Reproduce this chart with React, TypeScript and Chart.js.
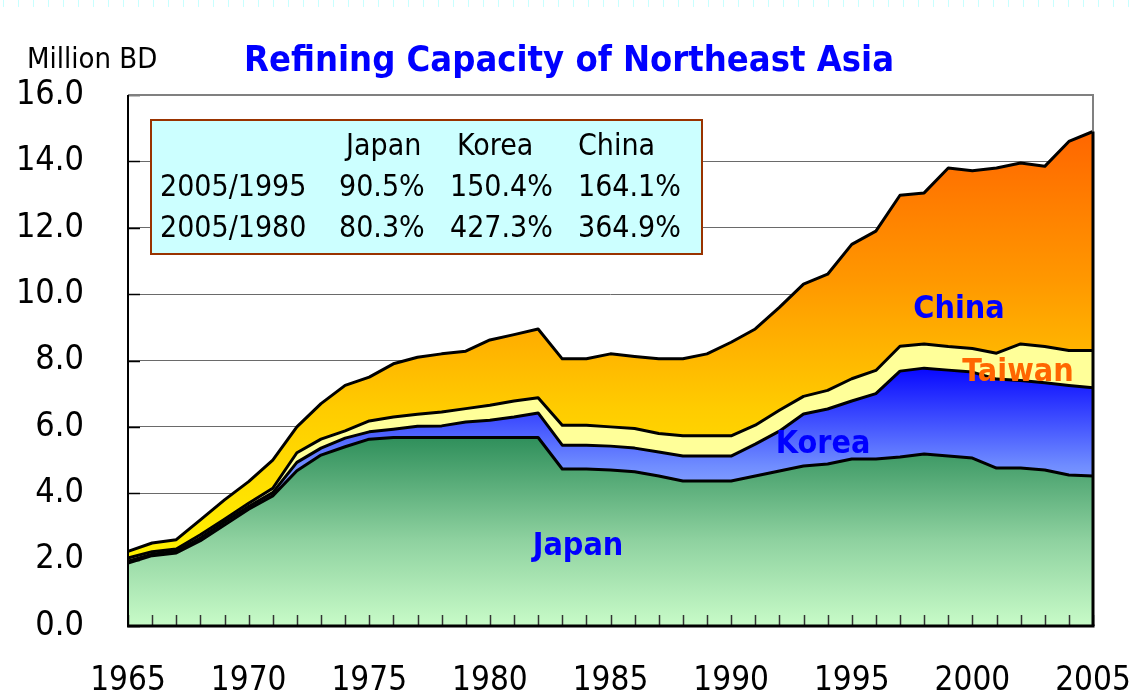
import { useEffect, useRef } from 'react';
import { Chart, registerables } from 'chart.js';

Chart.register(...registerables);

// ---- Data (million barrels/day) ----
const years = [
  1965, 1966, 1967, 1968, 1969, 1970, 1971, 1972, 1973, 1974,
  1975, 1976, 1977, 1978, 1979, 1980, 1981, 1982, 1983, 1984,
  1985, 1986, 1987, 1988, 1989, 1990, 1991, 1992, 1993, 1994,
  1995, 1996, 1997, 1998, 1999, 2000, 2001, 2002, 2003, 2004, 2005,
];
const japan = [
  1.90, 2.12, 2.20, 2.57, 3.04, 3.52, 3.92, 4.68, 5.15, 5.40,
  5.63, 5.68, 5.68, 5.68, 5.68, 5.68, 5.68, 5.68, 4.73, 4.73,
  4.70, 4.65, 4.52, 4.37, 4.37, 4.37, 4.52, 4.67, 4.82, 4.88,
  5.03, 5.03, 5.09, 5.18, 5.12, 5.06, 4.76, 4.76, 4.70, 4.55, 4.52,
];
const korea = [
  0.05, 0.04, 0.05, 0.08, 0.09, 0.08, 0.10, 0.25, 0.21, 0.26,
  0.22, 0.25, 0.34, 0.35, 0.47, 0.52, 0.62, 0.74, 0.72, 0.72,
  0.72, 0.71, 0.72, 0.75, 0.75, 0.75, 0.96, 1.20, 1.57, 1.66,
  1.75, 1.97, 2.59, 2.59, 2.59, 2.59, 2.68, 2.64, 2.63, 2.70, 2.66,
];
const taiwan = [
  0.10, 0.08, 0.07, 0.10, 0.09, 0.10, 0.13, 0.29, 0.27, 0.22,
  0.33, 0.37, 0.36, 0.42, 0.40, 0.45, 0.48, 0.46, 0.60, 0.60,
  0.58, 0.59, 0.56, 0.61, 0.61, 0.61, 0.57, 0.63, 0.53, 0.56,
  0.67, 0.70, 0.75, 0.73, 0.71, 0.71, 0.78, 1.10, 1.09, 1.05, 1.12,
];
const china = [
  0.20, 0.26, 0.28, 0.45, 0.58, 0.65, 0.85, 0.78, 1.07, 1.37,
  1.32, 1.60, 1.72, 1.75, 1.73, 1.97, 2.00, 2.07, 2.00, 2.00,
  2.20, 2.17, 2.25, 2.32, 2.47, 2.82, 2.90, 3.10, 3.38, 3.50,
  4.05, 4.20, 4.55, 4.55, 5.38, 5.36, 5.58, 5.45, 5.43, 6.30, 6.60,
];
const seriesNames = ['Japan', 'Korea', 'Taiwan', 'China'];
const yTickMax = 16;
const yTickStep = 2;

const tableHeader = ['Japan', 'Korea', 'China'];
const tableRowLabels = ['2005/1995', '2005/1980'];
const tableJapan = ['90.5%', '80.3%'];
const tableKorea = ['150.4%', '427.3%'];
const tableChina = ['164.1%', '364.9%'];

const titleText = 'Refining Capacity of Northeast Asia';
const unitText = 'Million BD';

const FAM = '"DejaVu Sans Condensed", "DejaVu Sans", sans-serif';

function cum(arrs: number[][]): number[] {
  return arrs[0].map((_, i) => arrs.reduce((s, a) => s + a[i], 0));
}

export default function App() {
  const ref = useRef<HTMLCanvasElement | null>(null);

  useEffect(() => {
    const canvas = ref.current;
    if (!canvas) return;

    const topJ = cum([japan]);
    const topK = cum([japan, korea]);
    const topT = cum([japan, korea, taiwan]);
    const topC = cum([japan, korea, taiwan, china]);

    const grad = (
      chart: any,
      hiVal: number,
      loVal: number | null,
      stops: [number, string][]
    ) => {
      const { chartArea, scales } = chart;
      if (!chartArea || !scales.y) return stops[stops.length - 1][1];
      const y0 = scales.y.getPixelForValue(hiVal);
      const y1 = loVal === null ? chartArea.bottom : scales.y.getPixelForValue(loVal);
      const g = chart.ctx.createLinearGradient(0, y0, 0, y1);
      stops.forEach(([o, c]) => g.addColorStop(o, c));
      return g;
    };

    const deco = {
      id: 'deco',
      beforeDraw(chart: any) {
        const c = chart.ctx;
        c.save();
        c.fillStyle = '#ffffff';
        c.fillRect(0, 0, chart.width, chart.height);
        // faint dashed strip at very top
        c.strokeStyle = '#c8ffff';
        c.lineWidth = 1;
        for (let x = 3.5; x < chart.width; x += 15) {
          c.beginPath();
          c.moveTo(x, 0);
          c.lineTo(x, 7);
          c.stroke();
        }
        c.restore();
      },
      afterDatasetsDraw(chart: any) {
        const c = chart.ctx;
        const { left, right, top, bottom } = chart.chartArea;
        const xs = chart.scales.x;
        const ys = chart.scales.y;
        c.save();
        // inner x ticks
        c.strokeStyle = '#333333';
        c.lineWidth = 1.5;
        years.forEach((_, i) => {
          const x = Math.round(xs.getPixelForValue(i)) + 0.5;
          c.beginPath();
          c.moveTo(x, bottom);
          c.lineTo(x, bottom - 11);
          c.stroke();
        });
        // inner y ticks
        c.strokeStyle = '#000000';
        c.lineWidth = 1.5;
        for (let v = 0; v <= yTickMax; v += yTickStep) {
          const y = Math.round(ys.getPixelForValue(v)) + 0.5;
          c.beginPath();
          c.moveTo(left, y);
          c.lineTo(left + 12, y);
          c.stroke();
        }
        // plot border
        c.strokeStyle = '#808080';
        c.lineWidth = 2;
        c.beginPath();
        c.moveTo(left, top);
        c.lineTo(right, top);
        c.lineTo(right, bottom);
        c.stroke();
        // black series edges at right & left
        c.strokeStyle = '#000000';
        c.lineWidth = 3;
        c.beginPath();
        c.moveTo(right, ys.getPixelForValue(topC[topC.length - 1]));
        c.lineTo(right, bottom);
        c.stroke();
        c.lineWidth = 2;
        c.beginPath();
        c.moveTo(left, top);
        c.lineTo(left, bottom);
        c.stroke();
        c.lineWidth = 3;
        c.beginPath();
        c.moveTo(left - 1, bottom);
        c.lineTo(right + 1.5, bottom);
        c.stroke();
        c.restore();
      },
      afterDraw(chart: any) {
        const c = chart.ctx;
        c.save();
        // Title
        c.fillStyle = '#0000ff';
        c.font = `bold 36px ${FAM}`;
        c.textAlign = 'center';
        c.textBaseline = 'alphabetic';
        c.fillText(titleText, 569, 71);
        // unit label
        c.fillStyle = '#000000';
        c.font = `29px ${FAM}`;
        c.textAlign = 'left';
        c.fillText(unitText, 27, 68);

        // table box
        c.fillStyle = '#ccffff';
        c.fillRect(151, 120, 551, 134);
        c.strokeStyle = '#993300';
        c.lineWidth = 2;
        c.strokeRect(151, 120, 551, 134);
        c.fillStyle = '#000000';
        c.font = `30px ${FAM}`;
        c.textAlign = 'left';
        const hdrX = [346, 457, 578];
        tableHeader.forEach((t, i) => c.fillText(t, hdrX[i], 155));
        const rowY = [196, 237];
        tableRowLabels.forEach((lab, r) => {
          c.fillText(lab, 160, rowY[r]);
          c.fillText(tableJapan[r], 339, rowY[r]);
          c.fillText(tableKorea[r], 450, rowY[r]);
          c.fillText(tableChina[r], 578, rowY[r]);
        });

        // series labels
        c.font = `bold 32px ${FAM}`;
        c.textAlign = 'center';
        c.fillStyle = '#0000ff';
        c.fillText(seriesNames[0], 578, 555);
        c.fillText(seriesNames[1], 823, 453);
        c.fillText(seriesNames[3], 959, 318);
        c.fillStyle = '#ff6600';
        c.fillText(seriesNames[2], 1018, 381);
        c.restore();
      },
    };

    const minOf = (a: number[]) => Math.min(...a);
    const maxOf = (a: number[]) => Math.max(...a);

    const common = {
      borderColor: '#000000',
      borderWidth: 3,
      pointRadius: 0,
      tension: 0,
      borderJoinStyle: 'round' as const,
    };

    const chart = new Chart(canvas, {
      type: 'line',
      data: {
        labels: years.map(String),
        datasets: [
          {
            ...common,
            label: seriesNames[0],
            data: japan,
            fill: 'origin',
            backgroundColor: (ctx: any) =>
              grad(ctx.chart, maxOf(topJ), null, [
                [0, '#2f8f5b'],
                [0.55, '#8fd2a0'],
                [1, '#c8fbc8'],
              ]),
          },
          {
            ...common,
            label: seriesNames[1],
            data: korea,
            fill: '-1',
            backgroundColor: (ctx: any) =>
              grad(ctx.chart, maxOf(topK), minOf(topJ), [
                [0, '#0808ff'],
                [0.5, '#6f8cff'],
                [1, '#cce4ff'],
              ]),
          },
          {
            ...common,
            label: seriesNames[2],
            data: taiwan,
            fill: '-1',
            backgroundColor: '#ffff99',
          },
          {
            ...common,
            label: seriesNames[3],
            data: china,
            fill: '-1',
            backgroundColor: (ctx: any) =>
              grad(ctx.chart, maxOf(topC), minOf(topT), [
                [0, '#ff6600'],
                [0.35, '#ff9800'],
                [0.65, '#ffcc00'],
                [1, '#fff200'],
              ]),
          },
        ],
      },
      options: {
        animation: false,
        responsive: false,
        maintainAspectRatio: false,
        layout: { padding: { top: 95, right: 43, left: 0, bottom: 0 } },
        plugins: {
          legend: { display: false },
          tooltip: { enabled: false },
          title: { display: false },
        },
        scales: {
          x: {
            type: 'category',
            offset: false,
            grid: { display: false, drawTicks: false },
            border: { display: false },
            ticks: {
              autoSkip: false,
              maxRotation: 0,
              minRotation: 0,
              padding: 36,
              color: '#000000',
              font: { family: FAM, size: 33 },
              callback: (_v: any, i: number) =>
                years[i] % 5 === 0 ? String(years[i]) : '',
            },
            afterFit: (s: any) => {
              s.height = 73;
              s.paddingLeft = 0;
              s.paddingRight = 0;
            },
          },
          y: {
            stacked: true,
            min: 0,
            max: yTickMax,
            grid: { color: '#6a6a6a', lineWidth: 1, drawTicks: false },
            border: { display: false },
            ticks: {
              stepSize: yTickStep,
              padding: 44,
              color: '#000000',
              font: { family: FAM, size: 34 },
              callback: (v: any) => Number(v).toFixed(1),
            },
            afterFit: (s: any) => {
              s.width = 128;
              s.paddingTop = 0;
              s.paddingBottom = 0;
            },
          },
        },
      } as any,
      plugins: [deco],
    });

    return () => chart.destroy();
  }, []);

  return (
    <div style={{ position: 'absolute', left: 0, top: 0, width: 1136, height: 699 }}>
      <canvas ref={ref} width={1136} height={699} style={{ width: 1136, height: 699, display: 'block' }} />
    </div>
  );
}
